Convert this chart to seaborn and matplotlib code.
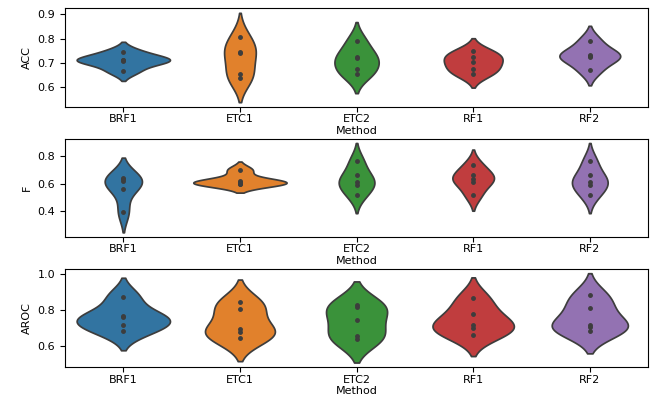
import matplotlib
matplotlib.use("Agg")
import matplotlib.pyplot as plt
import seaborn as sns
import pandas as pd

methods = ["BRF1", "ETC1", "ETC2", "RF1", "RF2"]

acc_brf1 = [0.745, 0.71, 0.71, 0.708, 0.665]
acc_etc1 = [0.805, 0.745, 0.74, 0.652, 0.637]
acc_etc2 = [0.79, 0.725, 0.72, 0.672, 0.651]
acc_rf1 = [0.746, 0.725, 0.703, 0.675, 0.651]
acc_rf2 = [0.79, 0.73, 0.728, 0.725, 0.668]

f_brf1 = [0.64, 0.63, 0.62, 0.56, 0.39]
f_etc1 = [0.70, 0.62, 0.61, 0.60, 0.595]
f_etc2 = [0.765, 0.66, 0.61, 0.59, 0.515]
f_rf1 = [0.735, 0.66, 0.635, 0.61, 0.515]
f_rf2 = [0.765, 0.66, 0.61, 0.59, 0.515]

aroc_brf1 = [0.875, 0.767, 0.761, 0.721, 0.683]
aroc_etc1 = [0.844, 0.806, 0.695, 0.679, 0.644]
aroc_etc2 = [0.83, 0.82, 0.745, 0.655, 0.64]
aroc_rf1 = [0.866, 0.78, 0.716, 0.703, 0.662]
aroc_rf2 = [0.883, 0.813, 0.721, 0.708, 0.683]

metrics = {
    "ACC": [acc_brf1, acc_etc1, acc_etc2, acc_rf1, acc_rf2],
    "F": [f_brf1, f_etc1, f_etc2, f_rf1, f_rf2],
    "AROC": [aroc_brf1, aroc_etc1, aroc_etc2, aroc_rf1, aroc_rf2],
}

plt.rcParams["font.size"] = 8
fig, axes = plt.subplots(3, 1, figsize=(6.54, 3.99), dpi=100)
fig.subplots_adjust(left=0.0994, right=0.991, top=0.979, bottom=0.0802, hspace=0.325)

for ax, (name, groups) in zip(axes, metrics.items()):
    rows = []
    for m, vals in zip(methods, groups):
        for v in vals:
            rows.append({"Method": m, name: v})
    df = pd.DataFrame(rows)
    sns.violinplot(data=df, x="Method", y=name, hue="Method", palette="tab10",
                   inner="point", legend=False, ax=ax, order=methods,
                   common_norm=True)
    ax.tick_params(labelsize=8)
    ax.tick_params(axis="x", pad=2)
    ax.set_xlabel("Method", fontsize=8, labelpad=1)
    ax.set_ylabel(name, fontsize=8)

axes[0].set_yticks([0.6, 0.7, 0.8, 0.9])
axes[1].set_yticks([0.4, 0.6, 0.8])
axes[2].set_yticks([0.6, 0.8, 1.0])

fig.savefig("out.png", dpi=100)
